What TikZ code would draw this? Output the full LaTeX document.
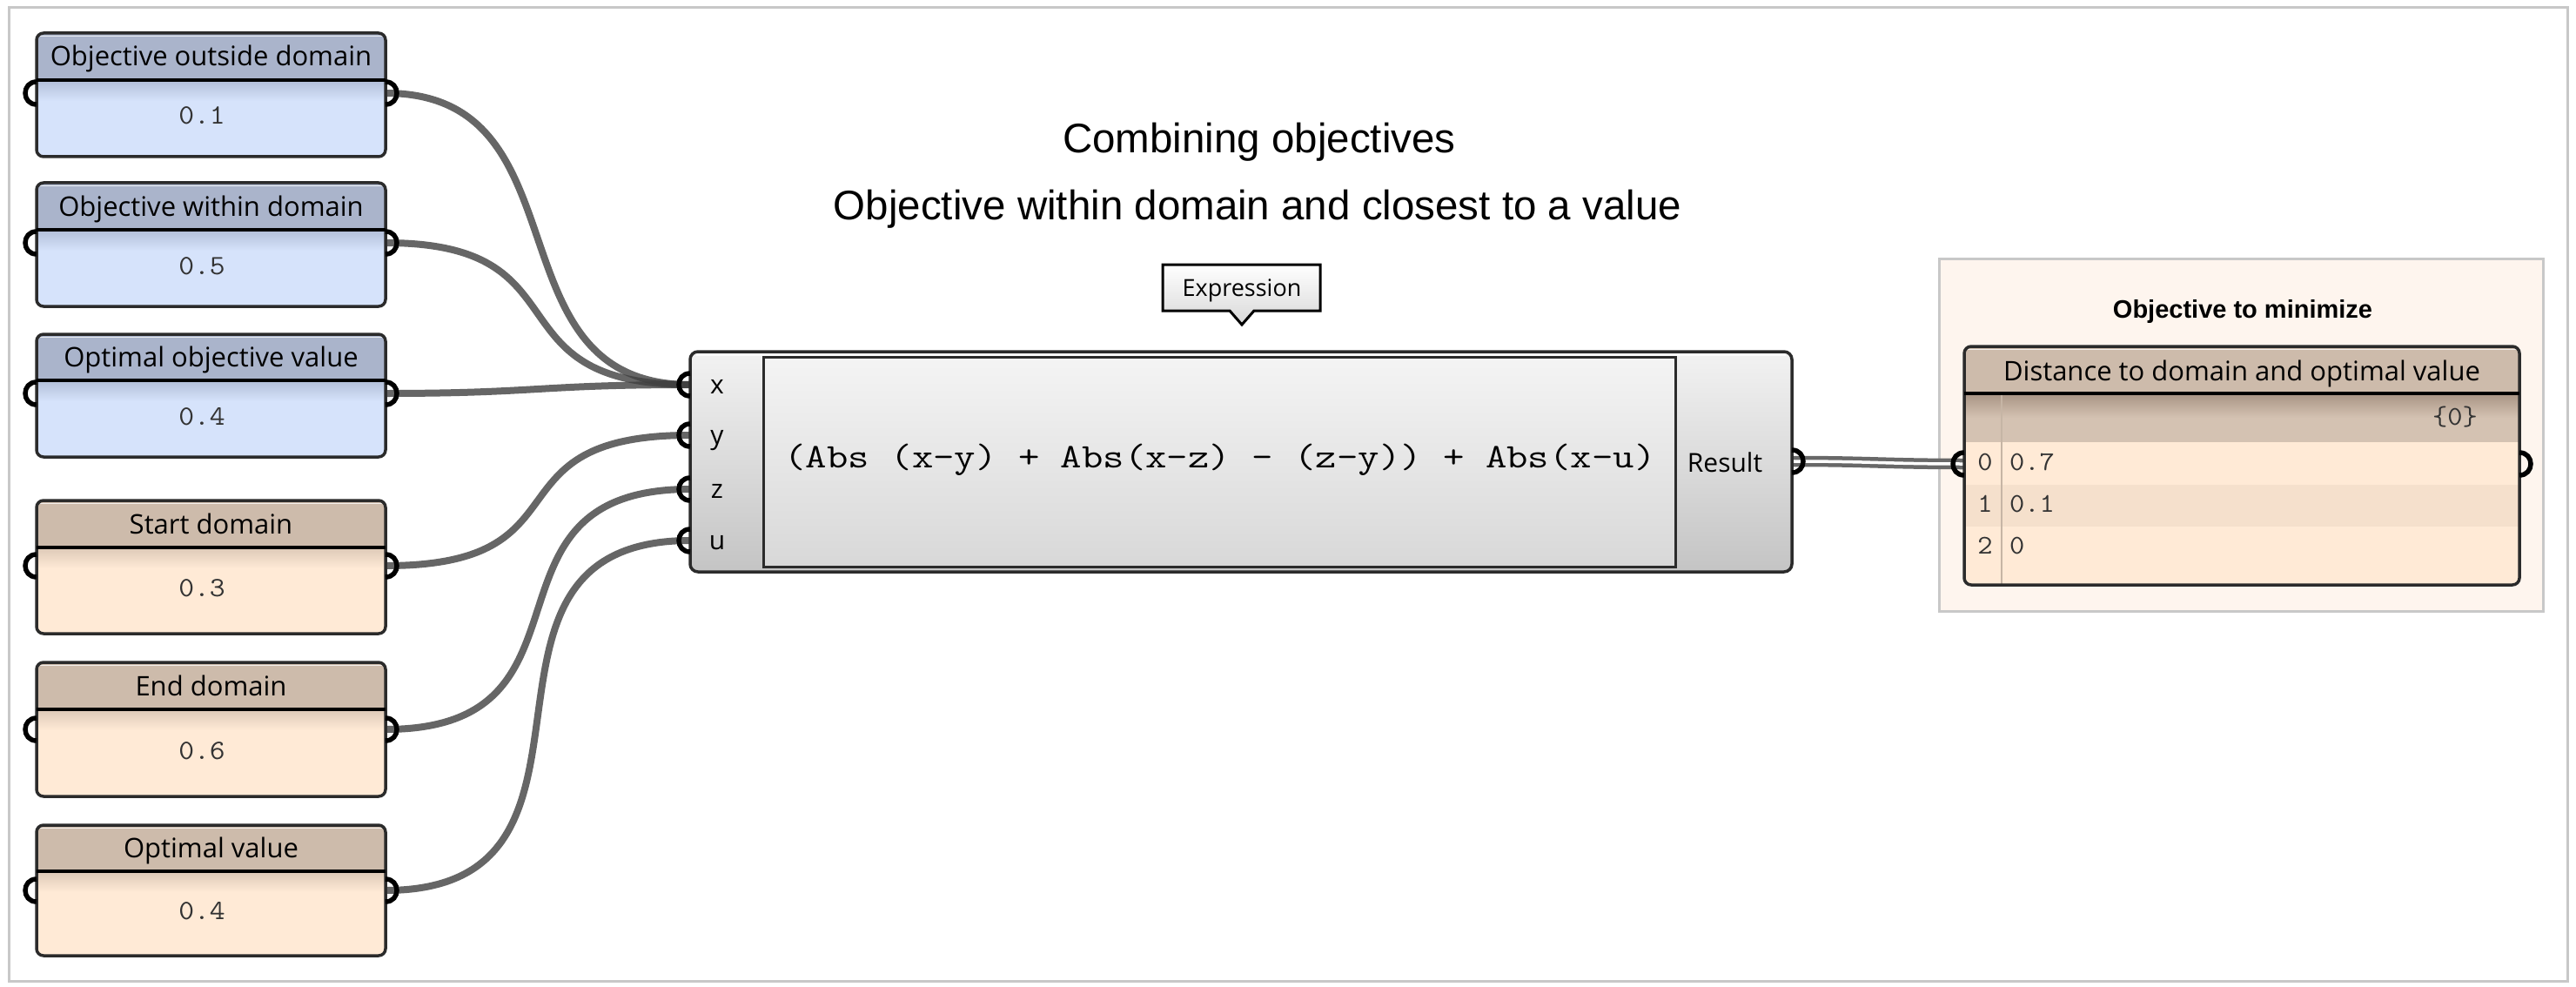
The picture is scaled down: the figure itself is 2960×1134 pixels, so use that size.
\documentclass[tikz,border=0pt]{standalone}
\usepackage{fontspec}
\setmainfont{Open Sans}
\newfontfamily\arialf{Liberation Sans}
\usepackage{graphicx}
\usetikzlibrary{calc}
\pgfdeclarelayer{back}
\pgfdeclarelayer{wires}
\pgfsetlayers{back,wires,main}

\definecolor{bluehead}{HTML}{AAB4CB}
\definecolor{bluebody}{HTML}{D6E3FB}
\definecolor{blueshade}{HTML}{B2BED8}
\definecolor{tanhead}{HTML}{CDBBAB}
\definecolor{tanbody}{HTML}{FFEAD6}
\definecolor{tanshade}{HTML}{DDC9B7}
\definecolor{tanalt}{HTML}{F5E0CC}
\definecolor{tanrow}{HTML}{D4C2B2}
\definecolor{tandark}{HTML}{A89484}
\definecolor{sepcol}{HTML}{C6B5A5}
\definecolor{wiregrey}{HTML}{404040}
\definecolor{wirelight}{HTML}{686868}
\definecolor{edge}{HTML}{2B2B2B}
\definecolor{framegrey}{HTML}{C8C8C8}
\definecolor{groupfill}{HTML}{FEF5EE}
\definecolor{compTop}{HTML}{F2F2F2}
\definecolor{compBot}{HTML}{C4C4C4}
\definecolor{innerTop}{HTML}{F4F4F4}
\definecolor{innerBot}{HTML}{D8D8D8}
\definecolor{valcol}{HTML}{333333}

\newcommand\mono[2]{\scalebox{1.08}[1]{\ttfamily\fontsize{#1}{#1}\selectfont #2}}

\newcommand\lport[1]{\draw[portline] ($(#1)+(0,-13)$) .. controls +(-17.3,0) and +(-17.3,0) .. ($(#1)+(0,13)$);}
\newcommand\rport[1]{\draw[portline] ($(#1)+(0,-13)$) .. controls +(17.3,0) and +(17.3,0) .. ($(#1)+(0,13)$);}

% #1 name, #2 top, #3 header line, #4 bottom, #5 port y, #6 scheme, #7 title, #8 value
\newcommand\gbox[8]{%
  \begin{scope}
    \clip[rounded corners=8] (42,#2) rectangle (443,#4);
    \fill[#6head] (42,#2) rectangle (443,#3);
    \fill[#6body] (42,#3) rectangle (443,#4);
    \shade[top color=#6shade, bottom color=#6body] (42,#3) rectangle (443,#3+24);
    \draw[white, line width=1.6, opacity=.75] (46,#2+3.5) -- (439,#2+3.5);
  \end{scope}
  \draw[edge, line width=3.5, rounded corners=8] (42,#2) rectangle (443,#4);
  \draw[black, line width=4] (42,#3) -- (443,#3);
  \node[hdrtext, anchor=base] (#1-title) at (242.5,{(#2+#3)/2+11}) {#7};
  \node[anchor=base, inner sep=0, text=valcol] (#1-val) at (232,{(#3+#4)/2+7}) {\mono{32}{#8}};
  \coordinate (#1-in) at (42,#5);
  \coordinate (#1-out) at (443,#5);
  \lport{#1-in}
  \rport{#1-out}
}

\begin{document}
\begin{tikzpicture}[x=1pt,y=-1pt,
  portline/.style={draw=black, line width=5.5},
  hdrtext/.style={font=\fontsize{31}{37}\selectfont, text=black, inner sep=0},
  lbltext/.style={font=\fontsize{30}{36}\selectfont, text=black, inner sep=0, anchor=base},
  wire/.style={draw=wiregrey, line width=8, opacity=.8},
  listwire/.style={draw=wirelight, double=white, double distance=3.5, line width=4.5}
]
\useasboundingbox (0,0) rectangle (2960,1134);

\begin{pgfonlayer}{back}
  \fill[white] (0,0) rectangle (2960,1134);
  \draw[framegrey, line width=3] (10,9) rectangle (2950,1127);
  \node[draw=framegrey, fill=groupfill, line width=3, minimum width=694pt, minimum height=405pt, inner sep=0] (group) at (2575,499.5) {};
\end{pgfonlayer}

% titles
\node[anchor=base, inner sep=0, font=\arialf\fontsize{47.5}{56}\selectfont] (title1) at (1447,176) {Combining objectives};
\node[anchor=base, inner sep=0, font=\arialf\fontsize{47.5}{56}\selectfont] (title2) at (1445,252) {Objective within domain and closest to a value};

% input boxes
\gbox{b1}{38}{92}{180}{107}{blue}{Objective outside domain}{0.1}
\gbox{b2}{210}{264}{352}{279}{blue}{Objective within domain}{0.5}
\gbox{b3}{384}{437}{525}{452}{blue}{Optimal objective value}{0.4}
\gbox{b4}{575}{629}{728}{650}{tan}{Start domain}{0.3}
\gbox{b5}{761}{815}{915}{838}{tan}{End domain}{0.6}
\gbox{b6}{948}{1001}{1098}{1023}{tan}{Optimal value}{0.4}

% tooltip
\shade[top color=white, bottom color=innerBot] (1336,304) -- (1517,304) -- (1517,357) -- (1441,357) -- (1427,373) -- (1413,357) -- (1336,357) -- cycle;
\draw[black, line width=3, line join=miter] (1336,304) -- (1517,304) -- (1517,357) -- (1441,357) -- (1427,373) -- (1413,357) -- (1336,357) -- cycle;
\node[anchor=base, inner sep=0, font=\fontsize{27}{32}\selectfont] (tip) at (1427,340) {Expression};

% expression component
\shade[top color=compTop, bottom color=compBot, rounded corners=9] (793,404) rectangle (2059,657);
\draw[white, line width=1.6, opacity=.8] (800,408) -- (2052,408);
\draw[edge, line width=3.5, rounded corners=9] (793,404) rectangle (2059,657);
\shade[top color=innerTop, bottom color=innerBot] (877,410) rectangle (1925,651);
\draw[edge, line width=3] (877,410) rectangle (1925,651);
\node[anchor=base, inner sep=0, text=black] (expr) at (1402,537) {\scalebox{1.2}[1]{\ttfamily\fontsize{39.5}{47}\selectfont (Abs (x-y) + Abs(x-z) - (z-y)) + Abs(x-u)}};
\coordinate (cx) at (793,442);
\coordinate (cy) at (793,500);
\coordinate (cz) at (793,562);
\coordinate (cu) at (793,621);
\coordinate (cres) at (2059,530);
\node[lbltext] (lx) at (824,452) {x};
\node[lbltext] (ly) at (824,510) {y};
\node[lbltext] (lz) at (824,572) {z};
\node[lbltext] (lu) at (824,631) {u};
\node[lbltext] (lres) at (1982,542) {Result};
\lport{cx}\lport{cy}\lport{cz}\lport{cu}
\rport{cres}

% output panel
\node[anchor=base, inner sep=0, font=\arialf\bfseries\fontsize{29}{34}\selectfont] (gtitle) at (2577,365) {Objective to minimize};
\begin{scope}
  \clip[rounded corners=8] (2257,398) rectangle (2895,672);
  \fill[tanhead] (2257,398) rectangle (2895,452);
  \fill[tanrow] (2257,452) rectangle (2895,508);
  \shade[top color=tandark, bottom color=tanrow] (2257,452) rectangle (2895,480);
  \fill[tanbody] (2257,508) rectangle (2895,672);
  \fill[tanalt] (2257,557) rectangle (2895,605);
  \draw[sepcol, line width=2.5] (2300,452) -- (2300,672);
  \draw[white, line width=1.6, opacity=.75] (2261,401.5) -- (2891,401.5);
\end{scope}
\draw[edge, line width=3.5, rounded corners=8] (2257,398) rectangle (2895,672);
\draw[black, line width=4] (2257,452) -- (2895,452);
\node[hdrtext, anchor=base] (ptitle) at (2576,437) {Distance to domain and optimal value};
\node[anchor=base east, inner sep=0, text=valcol] (pbr) at (2847,488) {\mono{31}{\{0\}}};
\node[anchor=base, inner sep=0, text=valcol] (i0) at (2281,540) {\mono{31}{0}};
\node[anchor=base, inner sep=0, text=valcol] (i1) at (2281,588) {\mono{31}{1}};
\node[anchor=base, inner sep=0, text=valcol] (i2) at (2281,636) {\mono{31}{2}};
\node[anchor=base west, inner sep=0, text=valcol] (v0) at (2309,540) {\mono{31}{0.7}};
\node[anchor=base west, inner sep=0, text=valcol] (v1) at (2309,588) {\mono{31}{0.1}};
\node[anchor=base west, inner sep=0, text=valcol] (v2) at (2309,636) {\mono{31}{0}};
\coordinate (pin) at (2257,533);
\coordinate (pout) at (2895,533);
\lport{pin}
\rport{pout}

% wires
\begin{pgfonlayer}{wires}
  \draw[wire] (b1-out) .. controls +(235,0) and +(-235,0) .. (cx);
  \draw[wire] (b2-out) .. controls +(235,0) and +(-235,0) .. (cx);
  \draw[wire] (b3-out) .. controls +(175,0) and +(-175,0) .. (cx);
  \draw[wire] (b4-out) .. controls +(240,0) and +(-240,0) .. (cy);
  \draw[wire] (b5-out) .. controls +(260,0) and +(-260,0) .. (cz);
  \draw[wire] (b6-out) .. controls +(295,0) and +(-295,0) .. (cu);
  \draw[listwire] (cres) .. controls +(90,0) and +(-90,0) .. (pin);
\end{pgfonlayer}
\end{tikzpicture}
\end{document}
